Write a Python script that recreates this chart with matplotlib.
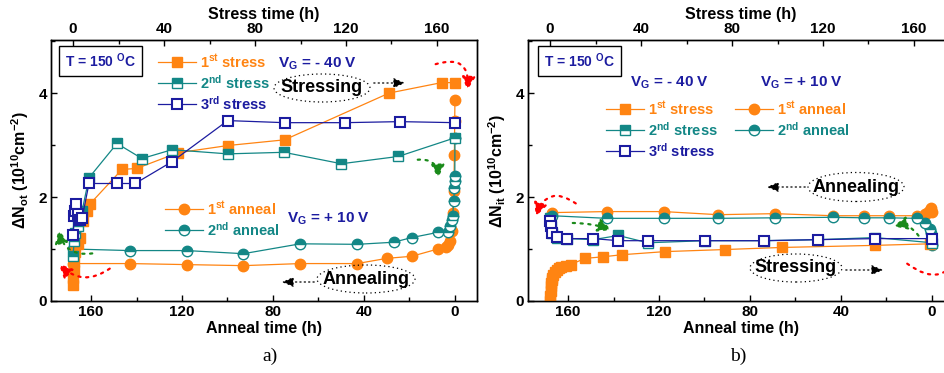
import matplotlib
matplotlib.use("Agg")
import matplotlib.pyplot as plt
from matplotlib.patches import Ellipse, FancyArrowPatch
from matplotlib.ticker import MultipleLocator

plt.rcParams['font.family'] = ['Liberation Sans', 'DejaVu Sans']
plt.rcParams['font.weight'] = 'bold'
plt.rcParams['axes.labelweight'] = 'bold'
plt.rcParams['mathtext.fontset'] = 'custom'
plt.rcParams['mathtext.rm'] = 'Liberation Sans:bold'
plt.rcParams['mathtext.it'] = 'Liberation Sans:bold'
plt.rcParams['mathtext.bf'] = 'Liberation Sans:bold'
plt.rcParams['mathtext.default'] = 'rm'

ORANGE = '#ff8412'
TEAL = '#138786'
NAVY = '#1c1ca0'

# ---- N_ot (left) ----
ot_s1_t = [0, 0.1, 0.25, 0.5, 1, 2, 3, 4.4, 6, 7.5, 21.5, 28, 46, 68, 93, 139, 162, 168]
ot_s1_v = [0.3, 0.45, 0.6, 0.75, 0.95, 1.1, 1.22, 1.54, 1.74, 1.87, 2.53, 2.55, 2.85, 2.99, 3.1, 4.0, 4.2, 4.2]
ot_s2_t = [0, 0.5, 1, 2, 3, 4, 7, 19.3, 30.3, 43.5, 68, 92.7, 118, 143, 168]
ot_s2_v = [0.87, 1.16, 1.3, 1.45, 1.6, 1.74, 2.37, 3.03, 2.74, 2.91, 2.83, 2.86, 2.64, 2.78, 3.14]
ot_s3_t = [0, 0.5, 1, 1.5, 2, 3, 4, 7, 19.3, 27.3, 43.5, 68, 93, 119.5, 143.7, 168]
ot_s3_v = [1.26, 1.64, 1.74, 1.87, 1.68, 1.55, 1.6, 2.26, 2.26, 2.26, 2.68, 3.47, 3.43, 3.43, 3.45, 3.43]
ot_a1_t = [0, 0.1, 0.25, 0.5, 1, 1.5, 2, 3, 4, 7.5, 19, 30, 43, 68, 93, 118, 143, 168]
ot_a1_v = [3.86, 3.47, 2.8, 2.12, 1.7, 1.35, 1.15, 1.08, 1.03, 1.0, 0.86, 0.82, 0.72, 0.72, 0.68, 0.7, 0.72, 0.72]
ot_a2_t = [0, 0.05, 0.1, 0.2, 0.5, 1, 1.5, 2, 3, 7.5, 19, 27, 43, 68, 93, 118, 143, 168]
ot_a2_v = [3.14, 2.41, 2.31, 2.18, 1.93, 1.64, 1.55, 1.45, 1.32, 1.32, 1.22, 1.13, 1.09, 1.1, 0.91, 0.97, 0.97, 1.0]

# ---- N_it (right) ----
it_s1_t = [0, 0.1, 0.2, 0.35, 0.5, 0.75, 1, 1.5, 2, 3, 4, 5, 7, 9, 15.4, 23.3, 31.6, 50.5, 77, 102, 143, 167]
it_s1_v = [0.0, 0.1, 0.2, 0.28, 0.35, 0.4, 0.45, 0.5, 0.55, 0.6, 0.63, 0.65, 0.68, 0.7, 0.82, 0.85, 0.89, 0.95, 0.99, 1.03, 1.07, 1.1]
it_s2_t = [0, 0.5, 1, 3, 7.5, 19, 30, 43, 68, 94, 118, 143, 168]
it_s2_v = [1.6, 1.45, 1.3, 1.22, 1.2, 1.18, 1.26, 1.12, 1.16, 1.16, 1.18, 1.22, 1.12]
it_s3_t = [0, 0.5, 1, 3, 7.5, 19, 30, 43, 68, 94, 118, 143, 168]
it_s3_v = [1.54, 1.45, 1.3, 1.24, 1.2, 1.2, 1.16, 1.16, 1.16, 1.16, 1.18, 1.2, 1.2]
it_a1_t = [0, 0.5, 1, 2, 3, 6.6, 19, 30, 43.5, 69, 94, 118, 143, 167]
it_a1_v = [1.72, 1.78, 1.75, 1.7, 1.68, 1.64, 1.64, 1.64, 1.64, 1.68, 1.66, 1.72, 1.72, 1.7]
it_a2_t = [0, 0.5, 1, 3, 6.6, 19, 30, 43.5, 69, 94, 118, 143, 167]
it_a2_v = [1.07, 1.3, 1.39, 1.5, 1.59, 1.6, 1.6, 1.61, 1.6, 1.59, 1.59, 1.59, 1.64]

W, H = 944, 373


def P(x, y):
    # pixel position -> figure fraction
    return (x / W, 1 - y / H)


fig = plt.figure(figsize=(W / 100, H / 100), dpi=100)
axL = fig.add_axes([51 / W, 72 / H, 426 / W, 261 / H])
axR = fig.add_axes([528 / W, 72 / H, 426 / W, 261 / H])

ms = 7.5
sq = dict(marker='s', ms=ms, lw=0.9)
ci = dict(marker='o', ms=ms, lw=0.9)


def setup(ax, ylab):
    ax.set_xlim(177.6, -9.7)
    ax.set_ylim(0, 5.02)
    top = ax.twiny()
    top.set_xlim(-9.7, 177.6)
    for a in (ax, top):
        a.xaxis.set_major_locator(MultipleLocator(40))
        a.xaxis.set_minor_locator(MultipleLocator(20))
        a.tick_params(which='both', direction='in', labelsize=11, width=1, pad=3)
        a.tick_params(which='major', length=4)
        a.tick_params(which='minor', length=3)
        for s in a.spines.values():
            s.set_linewidth(1)
    ax.yaxis.set_major_locator(MultipleLocator(2))
    ax.yaxis.set_minor_locator(MultipleLocator(1))
    ax.set_xlabel('Anneal time (h)', fontsize=11.5, labelpad=1)
    top.set_xlabel('Stress time (h)', fontsize=11.5, labelpad=2)
    ax.set_ylabel(ylab, fontsize=11.5, labelpad=5)
    return top


topL = setup(axL, 'ΔN$_{ot}$ (10$^{10}$cm$^{-2}$)')
topR = setup(axR, 'ΔN$_{it}$ (10$^{10}$cm$^{-2}$)')
for a in (axL, axR, topL, topR):
    for t in a.get_xticklabels() + a.get_yticklabels():
        t.set_fontweight('bold')

# left panel series
hs1, = topL.plot(ot_s1_t, ot_s1_v, color=ORANGE, mfc=ORANGE, mec=ORANGE, **sq)
hs2, = topL.plot(ot_s2_t, ot_s2_v, color=TEAL, mfc=TEAL, mec=TEAL, fillstyle='top',
                 markerfacecoloralt='white', **sq)
hs3, = topL.plot(ot_s3_t, ot_s3_v, color=NAVY, mfc='white', mec=NAVY, mew=1.5, **sq)
ha1, = axL.plot(ot_a1_t, ot_a1_v, color=ORANGE, mfc=ORANGE, mec=ORANGE, **ci)
ha2, = axL.plot(ot_a2_t, ot_a2_v, color=TEAL, mfc=TEAL, mec=TEAL, fillstyle='top',
                markerfacecoloralt='white', **ci)

# right panel series
gs1, = topR.plot(it_s1_t, it_s1_v, color=ORANGE, mfc=ORANGE, mec=ORANGE, **sq)
gs2, = topR.plot(it_s2_t, it_s2_v, color=TEAL, mfc=TEAL, mec=TEAL, fillstyle='top',
                 markerfacecoloralt='white', **sq)
gs3, = topR.plot(it_s3_t, it_s3_v, color=NAVY, mfc='white', mec=NAVY, mew=1.5, **sq)
ga1, = axR.plot(it_a1_t, it_a1_v, color=ORANGE, mfc=ORANGE, mec=ORANGE, **ci)
ga2, = axR.plot(it_a2_t, it_a2_v, color=TEAL, mfc=TEAL, mec=TEAL, fillstyle='top',
                markerfacecoloralt='white', **ci)

lab_s = ['1$^{st}$ stress', '2$^{nd}$ stress', '3$^{rd}$ stress']
lab_a = ['1$^{st}$ anneal', '2$^{nd}$ anneal']
leg_kw = dict(frameon=False, fontsize=10.5, handlelength=2.6, handletextpad=0.3,
              labelspacing=0.2, borderpad=0, borderaxespad=0, labelcolor='linecolor',
              bbox_transform=fig.transFigure, loc='upper left')

fig.legend([hs1, hs2, hs3], lab_s, bbox_to_anchor=P(158, 53), **leg_kw)
fig.legend([ha1, ha2], lab_a, bbox_to_anchor=P(165, 200), **leg_kw)
fig.legend([gs1, gs2, gs3], lab_s, bbox_to_anchor=P(606, 100), **leg_kw)
fig.legend([ga1, ga2], lab_a, bbox_to_anchor=P(735, 100), **leg_kw)

box = dict(boxstyle='square,pad=0.4', fc='white', ec='black', lw=1)
fig.text(*P(65, 61), 'T = 150 $^{O}$C', color=NAVY, fontsize=10, va='center', bbox=box)
fig.text(*P(544, 61), 'T = 150 $^{O}$C', color=NAVY, fontsize=10, va='center', bbox=box)
fig.text(*P(278, 64), 'V$_{G}$ = - 40 V', color=NAVY, fontsize=11, va='center')
fig.text(*P(287, 219), 'V$_{G}$ = + 10 V', color=NAVY, fontsize=11, va='center')
fig.text(*P(630, 83), 'V$_{G}$ = - 40 V', color=NAVY, fontsize=11, va='center')
fig.text(*P(760, 83), 'V$_{G}$ = + 10 V', color=NAVY, fontsize=11, va='center')


def tag(cx, cy, w, h, text, a0, a1):
    fig.text(*P(cx, cy), text, fontsize=13, ha='center', va='center', color='black')
    fig.patches.append(Ellipse(P(cx, cy), w / W, h / H, transform=fig.transFigure,
                               fill=False, ec='black', lw=0.9, ls=(0, (1, 2.5))))
    fig.patches.append(FancyArrowPatch(P(*a0), P(*a1), transform=fig.transFigure,
                                       arrowstyle='-|>,head_length=7,head_width=3',
                                       ls=(0, (1, 2.5)), lw=0.9, color='black'))


tag(322, 88, 96, 28, 'Stressing', (371, 83), (408, 83))
tag(366, 279, 98, 28, 'Annealing', (317, 282), (279, 282))
tag(856, 187, 96, 29, 'Annealing', (808, 187), (764, 187))
tag(796, 268, 92, 28, 'Stressing', (843, 270), (886, 270))


def curl(a0, a1, rad, color):
    fig.patches.append(FancyArrowPatch(P(*a0), P(*a1), transform=fig.transFigure,
                                       connectionstyle='arc3,rad=%s' % rad,
                                       arrowstyle='-|>,head_length=8,head_width=4',
                                       ls=(0, (1, 2.5)), lw=1.6, color=color))


curl((112, 267), (57, 262), -0.45, 'red')
curl((95, 253), (58, 227), -0.5, '#1a8a1a')
curl((433, 65), (467, 93), -0.8, 'red')
curl((415, 160), (438, 181), -0.6, '#1a8a1a')
curl((578, 205), (535, 219), 0.7, 'red')
curl((570, 223), (614, 231), -0.1, '#1a8a1a')
curl((920, 238), (891, 227), 0.4, '#1a8a1a')
curl((905, 262), (962, 245), 0.7, 'red')

fig.text(*P(270, 356), 'a)', family='Liberation Serif', fontweight='normal', fontsize=14,
         ha='center', va='center')
fig.text(*P(738, 356), 'b)', family='Liberation Serif', fontweight='normal', fontsize=14,
         ha='center', va='center')

fig.savefig('out.png', dpi=100)
